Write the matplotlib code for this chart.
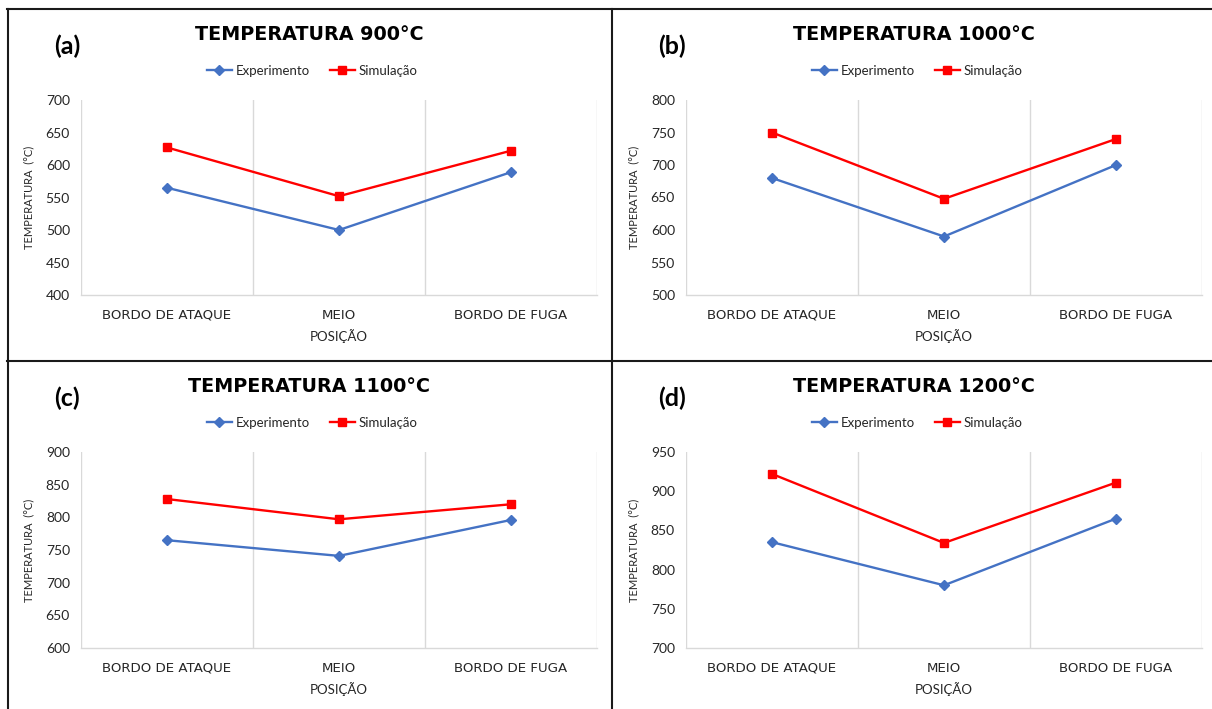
import matplotlib
matplotlib.use("Agg")
import matplotlib.pyplot as plt
from matplotlib.lines import Line2D

# Data
positions = ["BORDO DE ATAQUE", "MEIO", "BORDO DE FUGA"]
panel_tags = ["(a)", "(b)", "(c)", "(d)"]
panel_temps = ["900", "1000", "1100", "1200"]
experimento = [
    [565, 500, 589],
    [680, 590, 700],
    [765, 741, 796],
    [835, 780, 865],
]
simulacao = [
    [627, 552, 622],
    [750, 648, 740],
    [828, 797, 820],
    [922, 834, 911],
]
y_ranges = [(400, 700), (500, 800), (600, 900), (700, 950)]
y_steps = [50, 50, 50, 50]

W, H = 1212, 709
fig = plt.figure(figsize=(W / 100, H / 100), dpi=100)
fig.patch.set_facecolor("white")

BLUE = "#4472C4"
RED = "#FF0000"
GRID = "#d9d9d9"
BASE_FONT = ["Lato", "DejaVu Sans"]
WIDE_FONT = ["DejaVu Sans"]

# plot-area boxes in pixels: (left, top, right, bottom)
boxes = [
    (81, 100, 597, 295),
    (686, 100, 1202, 295),
    (81, 452, 597, 648),
    (686, 452, 1202, 648),
]
# offset of each panel
panel_x0 = [0, 605, 0, 605]
panel_y0 = [0, 0, 352, 352]


def fx(px):
    return px / W


def fy(py):
    return 1 - py / H


for i in range(4):
    l, t, r, b = boxes[i]
    ax = fig.add_axes([fx(l), fy(b), fx(r - l), (b - t) / H])
    x = list(range(len(positions)))
    ax.plot(x, experimento[i], color=BLUE, lw=1.7, marker="D", ms=5.5,
            markerfacecolor=BLUE, markeredgecolor=BLUE, zorder=3)
    ax.plot(x, simulacao[i], color=RED, lw=1.7, marker="s", ms=6,
            markerfacecolor=RED, markeredgecolor=RED, zorder=3)
    lo, hi = y_ranges[i]
    ax.set_ylim(lo, hi)
    ax.set_xlim(-0.5, len(positions) - 0.5)
    ax.set_yticks(range(lo, hi + 1, y_steps[i]))
    ax.set_xticks(x)
    ax.set_xticklabels(positions, fontfamily=WIDE_FONT, fontsize=9.6, color="#262626")
    for lab in ax.get_yticklabels():
        lab.set_fontfamily(BASE_FONT)
        lab.set_fontsize(10)
        lab.set_color("#262626")
    ax.tick_params(axis="both", length=0)
    ax.tick_params(axis="y", pad=8)
    ax.tick_params(axis="x", pad=10)
    for s in ["top", "right", "left"]:
        ax.spines[s].set_visible(False)
    ax.spines["bottom"].set_color(GRID)
    ax.spines["bottom"].set_linewidth(1.0)
    for gx in [-0.5, 0.5, 1.5, 2.5]:
        ax.axvline(gx, color=GRID, lw=1.0, zorder=1)
    ax.set_xlabel("POSIÇÃO", fontfamily=BASE_FONT, fontsize=9.5, color="#262626", labelpad=5)
    ax.set_ylabel("TEMPERATURA  (°C)", fontfamily=BASE_FONT, fontsize=8, color="#262626", labelpad=8)

    ox, oy = panel_x0[i], panel_y0[i]
    fig.text(fx(309 + ox), fy(34 + oy), "TEMPERATURA " + panel_temps[i] + "°C",
             ha="center", va="center", fontfamily=WIDE_FONT, fontweight="bold",
             fontsize=13.8, color="black")
    fig.text(fx(67 + ox), fy(46 + oy), panel_tags[i], ha="center", va="center",
             fontfamily=BASE_FONT, fontweight="bold", fontsize=18, color="black")

    handles = [
        Line2D([], [], color=BLUE, lw=1.7, marker="D", ms=5.5),
        Line2D([], [], color=RED, lw=1.7, marker="s", ms=6),
    ]
    fig.legend(handles, ["Experimento", "Simulação"], loc="center",
               bbox_to_anchor=(fx(312 + ox), fy(71 + oy)), ncol=2, frameon=False,
               prop={"family": BASE_FONT, "size": 9.5}, handlelength=1.9,
               handletextpad=0.3, columnspacing=1.5, labelcolor="#262626")

# frame lines separating the panels
frame_kw = dict(color="#1a1a1a", lw=1.5, transform=fig.transFigure)
fig.add_artist(Line2D([fx(7), 1], [fy(9), fy(9)], **frame_kw))
fig.add_artist(Line2D([fx(7.5), fx(7.5)], [fy(9), 0], **frame_kw))
fig.add_artist(Line2D([fx(612), fx(612)], [fy(9), 0], **frame_kw))
fig.add_artist(Line2D([fx(7), 1], [fy(361), fy(361)], **frame_kw))

fig.savefig("out.png", dpi=100, facecolor="white")
